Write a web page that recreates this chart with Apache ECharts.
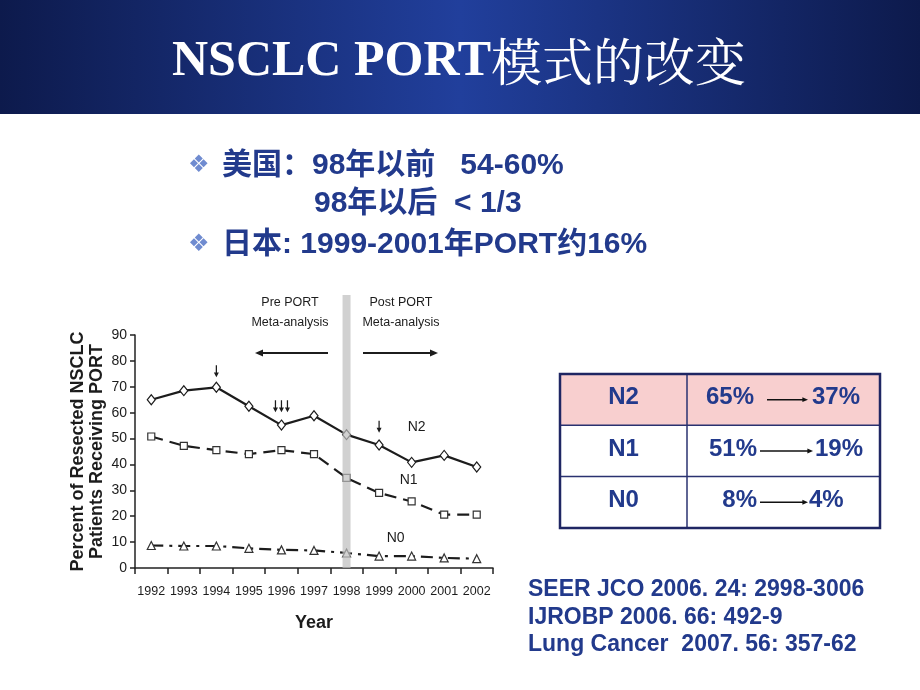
<!DOCTYPE html>
<html><head><meta charset="utf-8">
<script src="https://cdn.jsdelivr.net/npm/echarts@6/dist/echarts.min.js"></script>
<style>html,body{margin:0;padding:0;background:#fff}#c{width:920px;height:690px}</style>
</head><body><div id="c"></div>
<script>
// ---- data ----
const years = ['1992','1993','1994','1995','1996','1997','1998','1999','2000','2001','2002'];
const n2 = [65, 68.5, 69.8, 62.5, 55.2, 58.8, 51.5, 47.5, 40.8, 43.5, 39];
const n1 = [50.8, 47.2, 45.5, 44, 45.5, 44, 34.8, 29, 25.7, 20.6, 20.6];
const n0 = [8.7, 8.5, 8.5, 7.6, 7.0, 6.8, 5.8, 4.6, 4.6, 3.9, 3.6];
const yTicks = [0, 10, 20, 30, 40, 50, 60, 70, 80, 90];
const metaYear = '1998';
const titleLatin = 'NSCLC PORT';
const titleCJK = '模式的改变';
const bulletLines = ['美国：98年以前   54-60%', '98年以后  < 1/3', '日本: 1999-2001年PORT约16%'];
const tableRows = [['N2', '65%', '37%'], ['N1', '51%', '19%'], ['N0', '8%', '4%']];
const refs = ['SEER JCO 2006. 24: 2998-3006', 'IJROBP 2006. 66: 492-9', 'Lung Cancer  2007. 56: 357-62'];

const navy = '#223a8c';
const ink = '#1c1c1c';
const sans = "'Liberation Sans', Arial, sans-serif";
const arrowPath = 'path://M3,0 L5,0 L5,9 L8,9 L4,15 L0,9 L3,9 Z';

const chart = echarts.init(document.getElementById('c'));

function hArrow(x1, x2, y, color, lw, head) {
  const dir = x2 > x1 ? 1 : -1;
  return {
    type: 'group', children: [
      { type: 'line', shape: { x1: x1, y1: y, x2: x2 - dir * head, y2: y }, style: { stroke: color, lineWidth: lw } },
      { type: 'polygon', shape: { points: [[x2, y], [x2 - dir * head * 1.6, y - head * 0.7], [x2 - dir * head * 1.6, y + head * 0.7]] }, style: { fill: color } }
    ]
  };
}

const graphics = [];
// header band
graphics.push({
  type: 'rect', shape: { x: 0, y: 0, width: 920, height: 114 }, z: -10,
  style: { fill: new echarts.graphic.LinearGradient(0, 0, 1, 0, [
    { offset: 0, color: '#0d1a4c' }, { offset: 0.5, color: '#213f9c' }, { offset: 1, color: '#0d1a4c' }]) }
});
graphics.push({
  type: 'text', x: 172, y: 62,
  style: { text: '{a|' + titleLatin + '}{b|' + titleCJK + '}', verticalAlign: 'middle',
    rich: {
      a: { fill: '#fff', fontSize: 50, fontWeight: 'bold', fontFamily: "'Liberation Serif', 'Times New Roman', serif" },
      b: { fill: '#fff', fontSize: 51, fontWeight: 'normal', fontFamily: "'Noto Serif CJK SC', 'Noto Sans CJK SC', serif" }
    } }
});
// bullets
const bulletFont = "bold 30px " + sans + ", 'Noto Sans CJK SC'";
[[188, 166, true, 222, bulletLines[0]], [188, 204, false, 314, bulletLines[1]], [188, 245, true, 222, bulletLines[2]]].forEach(b => {
  if (b[2]) graphics.push({ type: 'text', x: b[0], y: b[1], style: { text: '❖', fill: '#6f8bd0', font: "24px 'DejaVu Sans', sans-serif", verticalAlign: 'middle' } });
  graphics.push({ type: 'text', x: b[3], y: b[1], style: { text: b[4], fill: navy, font: bulletFont, verticalAlign: 'middle' } });
});
// Pre/Post PORT annotations
const annFont = "12.5px " + sans;
graphics.push({ type: 'text', x: 290, y: 313, style: { text: 'Pre PORT\nMeta-analysis', fill: ink, font: annFont, align: 'center', verticalAlign: 'middle', lineHeight: 20 } });
graphics.push({ type: 'text', x: 401, y: 313, style: { text: 'Post PORT\nMeta-analysis', fill: ink, font: annFont, align: 'center', verticalAlign: 'middle', lineHeight: 20 } });
graphics.push(hArrow(328, 255, 353, ink, 2, 5));
graphics.push(hArrow(363, 438, 353, ink, 2, 5));
// table
const tx = 560, tw = 320, c1 = 127, ty = 374, rh = 51.3;
graphics.push({ type: 'rect', shape: { x: tx, y: ty, width: tw, height: rh }, style: { fill: '#f8cfcf' } });
for (let i = 1; i < 3; i++) graphics.push({ type: 'line', shape: { x1: tx, y1: ty + rh * i, x2: tx + tw, y2: ty + rh * i }, style: { stroke: '#2a3270', lineWidth: 1.5 } });
graphics.push({ type: 'line', shape: { x1: tx + c1, y1: ty, x2: tx + c1, y2: ty + rh * 3 }, style: { stroke: '#2a3270', lineWidth: 1.5 } });
graphics.push({ type: 'rect', shape: { x: tx, y: ty, width: tw, height: rh * 3 }, style: { fill: 'none', stroke: '#1f2663', lineWidth: 2.5 } });
const tFont = "bold 24px " + sans;
const arrowSpans = [[767, 808], [760, 813], [760, 808]];
const leftX = [754, 757, 757];
const rightX = [812, 815, 809];
tableRows.forEach((r, i) => {
  const cy = ty + rh * i + rh / 2 - 2;
  graphics.push({ type: 'text', x: tx + c1 / 2, y: cy, style: { text: r[0], fill: navy, font: tFont, align: 'center', verticalAlign: 'middle' } });
  graphics.push({ type: 'text', x: leftX[i], y: cy, style: { text: r[1], fill: navy, font: tFont, align: 'right', verticalAlign: 'middle' } });
  graphics.push({ type: 'text', x: rightX[i], y: cy, style: { text: r[2], fill: navy, font: tFont, align: 'left', verticalAlign: 'middle' } });
  graphics.push(hArrow(arrowSpans[i][0], arrowSpans[i][1], cy + 2, '#111', 1.5, 3.5));
});
// references
refs.forEach((t, i) => {
  graphics.push({ type: 'text', x: 528, y: 590 + i * 27.5, style: { text: t, fill: navy, font: "bold 23px " + sans, verticalAlign: 'middle' } });
});

function nLabel(name, year, val, dx) {
  return { coord: [year, val], symbol: 'circle', symbolSize: 1, itemStyle: { color: 'rgba(0,0,0,0)' },
    label: { show: true, formatter: name, position: 'inside', offset: [dx, 0], color: ink, fontSize: 14, fontFamily: sans } };
}
function downArrow(year, val, dx) {
  return { coord: [year, val], symbol: arrowPath, symbolSize: [5, 12], symbolOffset: [dx, 0], itemStyle: { color: ink }, label: { show: false } };
}

const option = {
  animation: false,
  backgroundColor: '#fff',
  grid: [
    { left: 135, top: 335, width: 358, height: 233 },
    { left: 135, top: 295, width: 358, height: 273 }
  ],
  xAxis: [
    { type: 'category', data: years, gridIndex: 0, boundaryGap: true,
      axisLine: { lineStyle: { color: '#222', width: 1.5 } },
      axisTick: { show: true, inside: false, length: 6, lineStyle: { color: '#222', width: 1.5 } },
      axisLabel: { color: ink, fontSize: 12.5, fontFamily: sans, margin: 17, interval: 0 },
      name: 'Year', nameLocation: 'middle', nameGap: 46,
      nameTextStyle: { color: ink, fontSize: 18, fontWeight: 'bold', fontFamily: sans } },
    { type: 'category', data: years, gridIndex: 1, show: false, boundaryGap: true }
  ],
  yAxis: [
    { type: 'value', gridIndex: 0, min: yTicks[0], max: yTicks[yTicks.length - 1], interval: 10,
      splitLine: { show: false },
      axisLine: { show: true, lineStyle: { color: '#222', width: 1.5 } },
      axisTick: { show: true, length: 5, lineStyle: { color: '#222', width: 1.5 } },
      axisLabel: { color: ink, fontSize: 14, fontFamily: sans, margin: 8 },
      name: 'Percent of Resected NSCLC\nPatients Receiving PORT', nameLocation: 'middle', nameGap: 28,
      nameTextStyle: { color: ink, fontSize: 18, fontWeight: 'bold', fontFamily: sans, lineHeight: 19 } },
    { type: 'value', gridIndex: 1, min: 0, max: 1, show: false }
  ],
  graphic: graphics,
  series: [
    { name: 'N2', type: 'line', data: n2, xAxisIndex: 0, yAxisIndex: 0, symbol: 'diamond', symbolSize: [8, 10],
      lineStyle: { color: ink, width: 2.2 }, itemStyle: { color: '#fff', borderColor: ink, borderWidth: 1.2 }, z: 3,
      markPoint: { data: [downArrow('1994', 76, 0), downArrow('1996', 62.5, -6), downArrow('1996', 62.5, 0), downArrow('1996', 62.5, 6), downArrow('1999', 54.6, 0), nLabel('N2', '2000', 54.6, 5)] } },
    { name: 'N1', type: 'line', data: n1, xAxisIndex: 0, yAxisIndex: 0, symbol: 'rect', symbolSize: 7,
      lineStyle: { color: ink, width: 2.2, type: [12, 7] }, itemStyle: { color: '#fff', borderColor: '#333', borderWidth: 1.2 }, z: 3,
      markPoint: { data: [nLabel('N1', '2000', 34, -3)] } },
    { name: 'N0', type: 'line', data: n0, xAxisIndex: 0, yAxisIndex: 0, symbol: 'triangle', symbolSize: 8,
      lineStyle: { color: ink, width: 2.2, type: [12, 6, 3, 6] }, itemStyle: { color: '#fff', borderColor: '#333', borderWidth: 1.2 }, z: 3,
      markPoint: { data: [nLabel('N0', '2000', 11.5, -16)] } },
    { name: 'meta', type: 'bar', xAxisIndex: 1, yAxisIndex: 1, barWidth: 8, z: 5, silent: true,
      data: years.map(y => y === metaYear ? 1 : null), itemStyle: { color: 'rgba(190,190,190,0.7)' } }
  ]
};
chart.setOption(option);
</script></body></html>
